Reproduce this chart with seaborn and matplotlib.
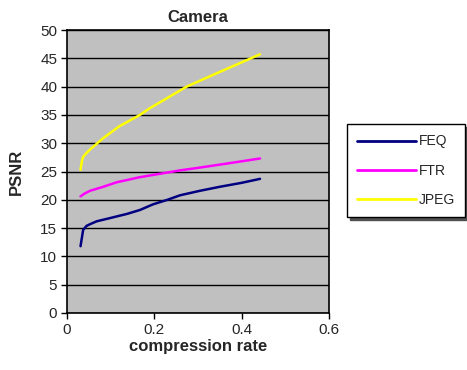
import numpy as np
import pandas as pd
import matplotlib
matplotlib.use("Agg")
import matplotlib.pyplot as plt
import seaborn as sns

feq_x = [0.031, 0.037, 0.045, 0.053, 0.068, 0.10, 0.137, 0.167, 0.197, 0.23, 0.259, 0.305, 0.35, 0.40, 0.442]
feq_y = [11.8, 14.7, 15.4, 15.7, 16.2, 16.8, 17.5, 18.2, 19.2, 20.0, 20.8, 21.6, 22.3, 23.0, 23.7]

ftr_x = [0.031, 0.040, 0.053, 0.083, 0.114, 0.167, 0.213, 0.259, 0.305, 0.366, 0.442]
ftr_y = [20.6, 21.1, 21.6, 22.3, 23.1, 24.0, 24.6, 25.2, 25.7, 26.4, 27.3]

jpeg_x = [0.031, 0.034, 0.037, 0.045, 0.053, 0.083, 0.12, 0.167, 0.19, 0.23, 0.274, 0.35, 0.442]
jpeg_y = [25.3, 26.8, 27.6, 28.3, 28.9, 30.9, 33.0, 35.0, 36.2, 38.0, 40.0, 42.6, 45.7]

series_names = ["FEQ", "FTR", "JPEG"]
series_colors = ["#000080", "#FF00FF", "#FFFF00"]

frames = []
for name, xs, ys in zip(series_names, [feq_x, ftr_x, jpeg_x], [feq_y, ftr_y, jpeg_y]):
    frames.append(pd.DataFrame({"x": xs, "y": ys, "series": name}))
df = pd.concat(frames, ignore_index=True)

sns.set_style("white")
plt.rcParams["font.family"] = ["Liberation Sans", "DejaVu Sans"]

fig = plt.figure(figsize=(4.67, 3.70), dpi=100)
ax = fig.add_axes([67/467, 1 - 313/370, (329-67)/467, (313-30)/370])
ax.set_facecolor("#C0C0C0")

sns.lineplot(data=df, x="x", y="y", hue="series", palette=dict(zip(series_names, series_colors)),
             sort=False, estimator=None, linewidth=1.8, ax=ax, legend=True)

ax.set_xlim(0, 0.6)
ax.set_ylim(0, 50)
ax.set_xticks([0, 0.2, 0.4, 0.6])
ax.set_xticklabels(["0", "0.2", "0.4", "0.6"])
ax.set_yticks(range(0, 51, 5))
ax.yaxis.grid(True, color="black", linewidth=1)
ax.xaxis.grid(False)
ax.set_axisbelow(True)
for s in ax.spines.values():
    s.set_color("black")
    s.set_linewidth(1.2)
ax.tick_params(axis="both", direction="out", length=4, width=1, color="black", labelsize=11, pad=3)
ax.tick_params(left=True, bottom=True)

ax.set_title("Camera", fontsize=12, fontweight="bold", pad=6)
ax.set_xlabel("compression rate", fontsize=12, fontweight="bold", labelpad=2)
ax.set_ylabel("PSNR", fontsize=12, fontweight="bold", labelpad=12)

handles, labels = ax.get_legend_handles_labels()
leg = ax.legend(handles, labels, loc="upper left", bbox_to_anchor=(347/467, 1 - 124/370),
                bbox_transform=fig.transFigure, frameon=True, fancybox=False,
                shadow={"color": "#505050", "alpha": 1.0},
                fontsize=10, handlelength=4.2, labelspacing=1.1, borderpad=0.75, handletextpad=0.2,
                borderaxespad=0)
leg._legend_box.sep = 0
leg.get_frame().set_edgecolor("black")
leg.get_frame().set_linewidth(1.0)
for line in leg.get_lines():
    line.set_linewidth(2)

fig.savefig("out.png", dpi=100)
